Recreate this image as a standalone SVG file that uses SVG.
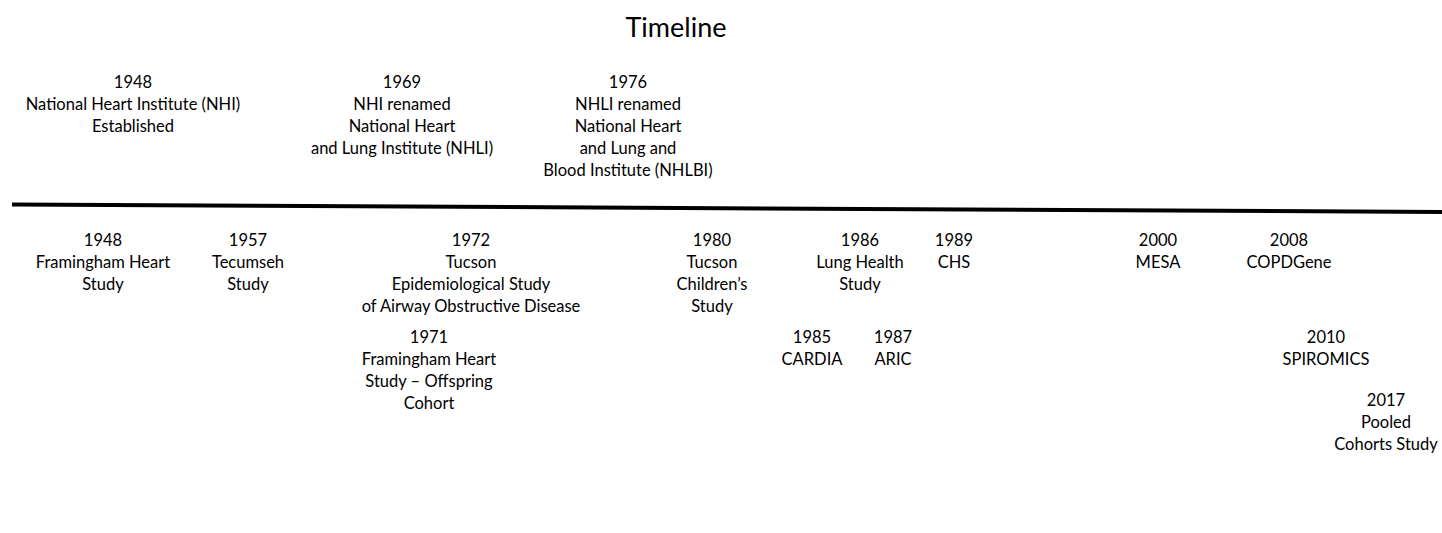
<svg xmlns="http://www.w3.org/2000/svg" width="1442" height="533" viewBox="0 0 1442 533">
<style>
text{font-family:Lato,"Open Sans","Liberation Sans",sans-serif;font-size:16.5px;fill:#000;text-anchor:middle}
.title{font-size:27px}
</style>
<rect width="1442" height="533" fill="#fff"/>
<g id="connectors">
<line x1="12" y1="204.5" x2="1442" y2="212" stroke="#000" stroke-width="4"/>
</g>
<text class="title" x="676" y="37">Timeline</text>
<g id="nhi1948"><text x="133" y="88">1948</text><text x="133" y="110">National Heart Institute (NHI)</text><text x="133" y="132">Established</text></g>
<g id="nhli1969"><text x="402" y="88">1969</text><text x="402" y="110">NHI renamed</text><text x="402" y="132">National Heart</text><text x="402" y="154">and Lung Institute (NHLI)</text></g>
<g id="nhlbi1976"><text x="628" y="88">1976</text><text x="628" y="110">NHLI renamed</text><text x="628" y="132">National Heart</text><text x="628" y="154">and Lung and</text><text x="628" y="176">Blood Institute (NHLBI)</text></g>
<g id="fhs1948"><text x="103" y="246">1948</text><text x="103" y="268">Framingham Heart</text><text x="103" y="290">Study</text></g>
<g id="tecumseh1957"><text x="248" y="246">1957</text><text x="248" y="268">Tecumseh</text><text x="248" y="290">Study</text></g>
<g id="tucson1972"><text x="471" y="246">1972</text><text x="471" y="268">Tucson</text><text x="471" y="290">Epidemiological Study</text><text x="471" y="312">of Airway Obstructive Disease</text></g>
<g id="fhso1971"><text x="429" y="343">1971</text><text x="429" y="365">Framingham Heart</text><text x="429" y="387">Study – Offspring</text><text x="429" y="409">Cohort</text></g>
<g id="tcs1980"><text x="712" y="246">1980</text><text x="712" y="268">Tucson</text><text x="712" y="290">Children’s</text><text x="712" y="312">Study</text></g>
<g id="lhs1986"><text x="860" y="246">1986</text><text x="860" y="268">Lung Health</text><text x="860" y="290">Study</text></g>
<g id="chs1989"><text x="954" y="246">1989</text><text x="954" y="268">CHS</text></g>
<g id="cardia1985"><text x="812" y="343">1985</text><text x="812" y="365">CARDIA</text></g>
<g id="aric1987"><text x="893" y="343">1987</text><text x="893" y="365">ARIC</text></g>
<g id="mesa2000"><text x="1158" y="246">2000</text><text x="1158" y="268">MESA</text></g>
<g id="copdgene2008"><text x="1289" y="246">2008</text><text x="1289" y="268">COPDGene</text></g>
<g id="spiromics2010"><text x="1326" y="343">2010</text><text x="1326" y="365">SPIROMICS</text></g>
<g id="pooled2017"><text x="1386" y="406">2017</text><text x="1386" y="428">Pooled</text><text x="1386" y="450">Cohorts Study</text></g>
</svg>
